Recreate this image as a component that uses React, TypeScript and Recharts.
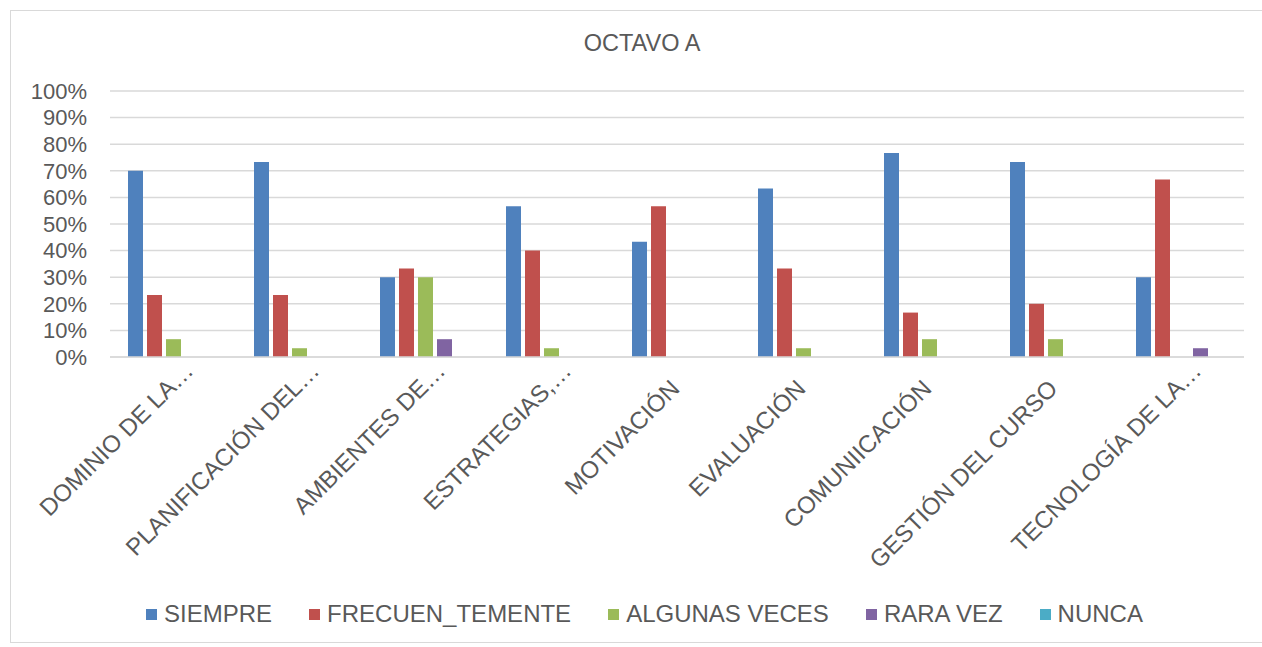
import React from "react";
import { BarChart, Bar, XAxis, YAxis, CartesianGrid, Legend } from "recharts";

const categories = [
  "DOMINIO DE LA…",
  "PLANIFICACIÓN DEL…",
  "AMBIENTES DE…",
  "ESTRATEGIAS,…",
  "MOTIVACIÓN",
  "EVALUACIÓN",
  "COMUNIICACIÓN",
  "GESTIÓN DEL CURSO",
  "TECNOLOGÍA DE LA…",
];

const siempre = [70, 73.3, 30, 56.7, 43.3, 63.3, 76.7, 73.3, 30];
const frecuentemente = [23.3, 23.3, 33.3, 40, 56.7, 33.3, 16.7, 20, 66.7];
const algunasVeces = [6.7, 3.3, 30, 3.3, 0, 3.3, 6.7, 6.7, 0];
const raraVez = [0, 0, 6.7, 0, 0, 0, 0, 0, 3.3];
const nunca = [0, 0, 0, 0, 0, 0, 0, 0, 0];

const yTicks = [0, 10, 20, 30, 40, 50, 60, 70, 80, 90, 100];

const series = [
  { key: "siempre", name: "SIEMPRE", color: "#4F81BD" },
  { key: "frecuentemente", name: "FRECUEN_TEMENTE", color: "#C0504D" },
  { key: "algunasVeces", name: "ALGUNAS VECES", color: "#9BBB59" },
  { key: "raraVez", name: "RARA VEZ", color: "#8064A2" },
  { key: "nunca", name: "NUNCA", color: "#4BACC6" },
];

const data = categories.map((name, i) => ({
  name,
  siempre: siempre[i],
  frecuentemente: frecuentemente[i],
  algunasVeces: algunasVeces[i],
  raraVez: raraVez[i],
  nunca: nunca[i],
}));

const FONT = "'Liberation Sans', Arial, sans-serif";
const TEXT = "#595959";

const CategoryTick = (props: any) => {
  const { x, y, payload } = props;
  const label: string = payload.value;
  const shift = label.endsWith("…") ? 25 : 0;
  return (
    <g transform={`translate(${x},${y})`}>
      <text
        x={4}
        y={33}
        dx={shift}
        transform="rotate(-45, 4, 33)"
        textAnchor="end"
        fill={TEXT}
        fontSize={24}
        fontFamily={FONT}
      >
        {label}
      </text>
    </g>
  );
};

const LegendRow = () => (
  <div
    style={{
      display: "flex",
      justifyContent: "center",
      alignItems: "center",
      height: 28,
      paddingLeft: 16,
      fontFamily: FONT,
      fontSize: 24,
      color: TEXT,
    }}
  >
    {series.map((s, i) => (
      <div
        key={s.key}
        style={{ display: "flex", alignItems: "center", marginLeft: i === 0 ? 0 : 37 }}
      >
        <span style={{ width: 11, height: 11, background: s.color, marginRight: 7 }} />
        <span>{s.name}</span>
      </div>
    ))}
  </div>
);

export default function App() {
  return (
    <div
      style={{
        position: "absolute",
        left: 10,
        top: 10,
        width: 1251,
        height: 631,
        borderTop: "1px solid #d9d9d9",
        borderLeft: "1px solid #d9d9d9",
        borderBottom: "1px solid #d9d9d9",
        background: "#fff",
      }}
    >
      <div
        style={{
          position: "absolute",
          left: 631,
          top: 21,
          transform: "translateX(-50%)",
          fontFamily: FONT,
          fontSize: 23.5,
          lineHeight: "23px",
          color: TEXT,
          whiteSpace: "nowrap",
        }}
      >
        OCTAVO A
      </div>
      <BarChart
        width={1251}
        height={631}
        data={data}
        margin={{ top: 80, right: 18, left: 0, bottom: 0 }}
        barSize={15}
        barGap={4}
      >
        <CartesianGrid vertical={false} stroke="#d9d9d9" strokeWidth={1.5} />
        <XAxis
          dataKey="name"
          interval={0}
          height={257}
          tickLine={false}
          tickSize={0}
          tickMargin={0}
          axisLine={{ stroke: "#d9d9d9", strokeWidth: 1.5 }}
          tick={<CategoryTick />}
        />
        <YAxis
          width={99}
          domain={[0, 100]}
          ticks={yTicks}
          interval={0}
          tickFormatter={(v: number) => `${v}%`}
          axisLine={false}
          tickLine={false}
          tickSize={0}
          tickMargin={23}
          tick={{ fill: TEXT, fontSize: 22, fontFamily: FONT }}
        />
        <Legend
          verticalAlign="bottom"
          content={() => <LegendRow />}
          wrapperStyle={{ left: 0, width: 1251, bottom: 14 }}
        />
        {series.map((s) => (
          <Bar
            key={s.key}
            dataKey={s.key}
            name={s.name}
            fill={s.color}
            isAnimationActive={false}
          />
        ))}
      </BarChart>
    </div>
  );
}
